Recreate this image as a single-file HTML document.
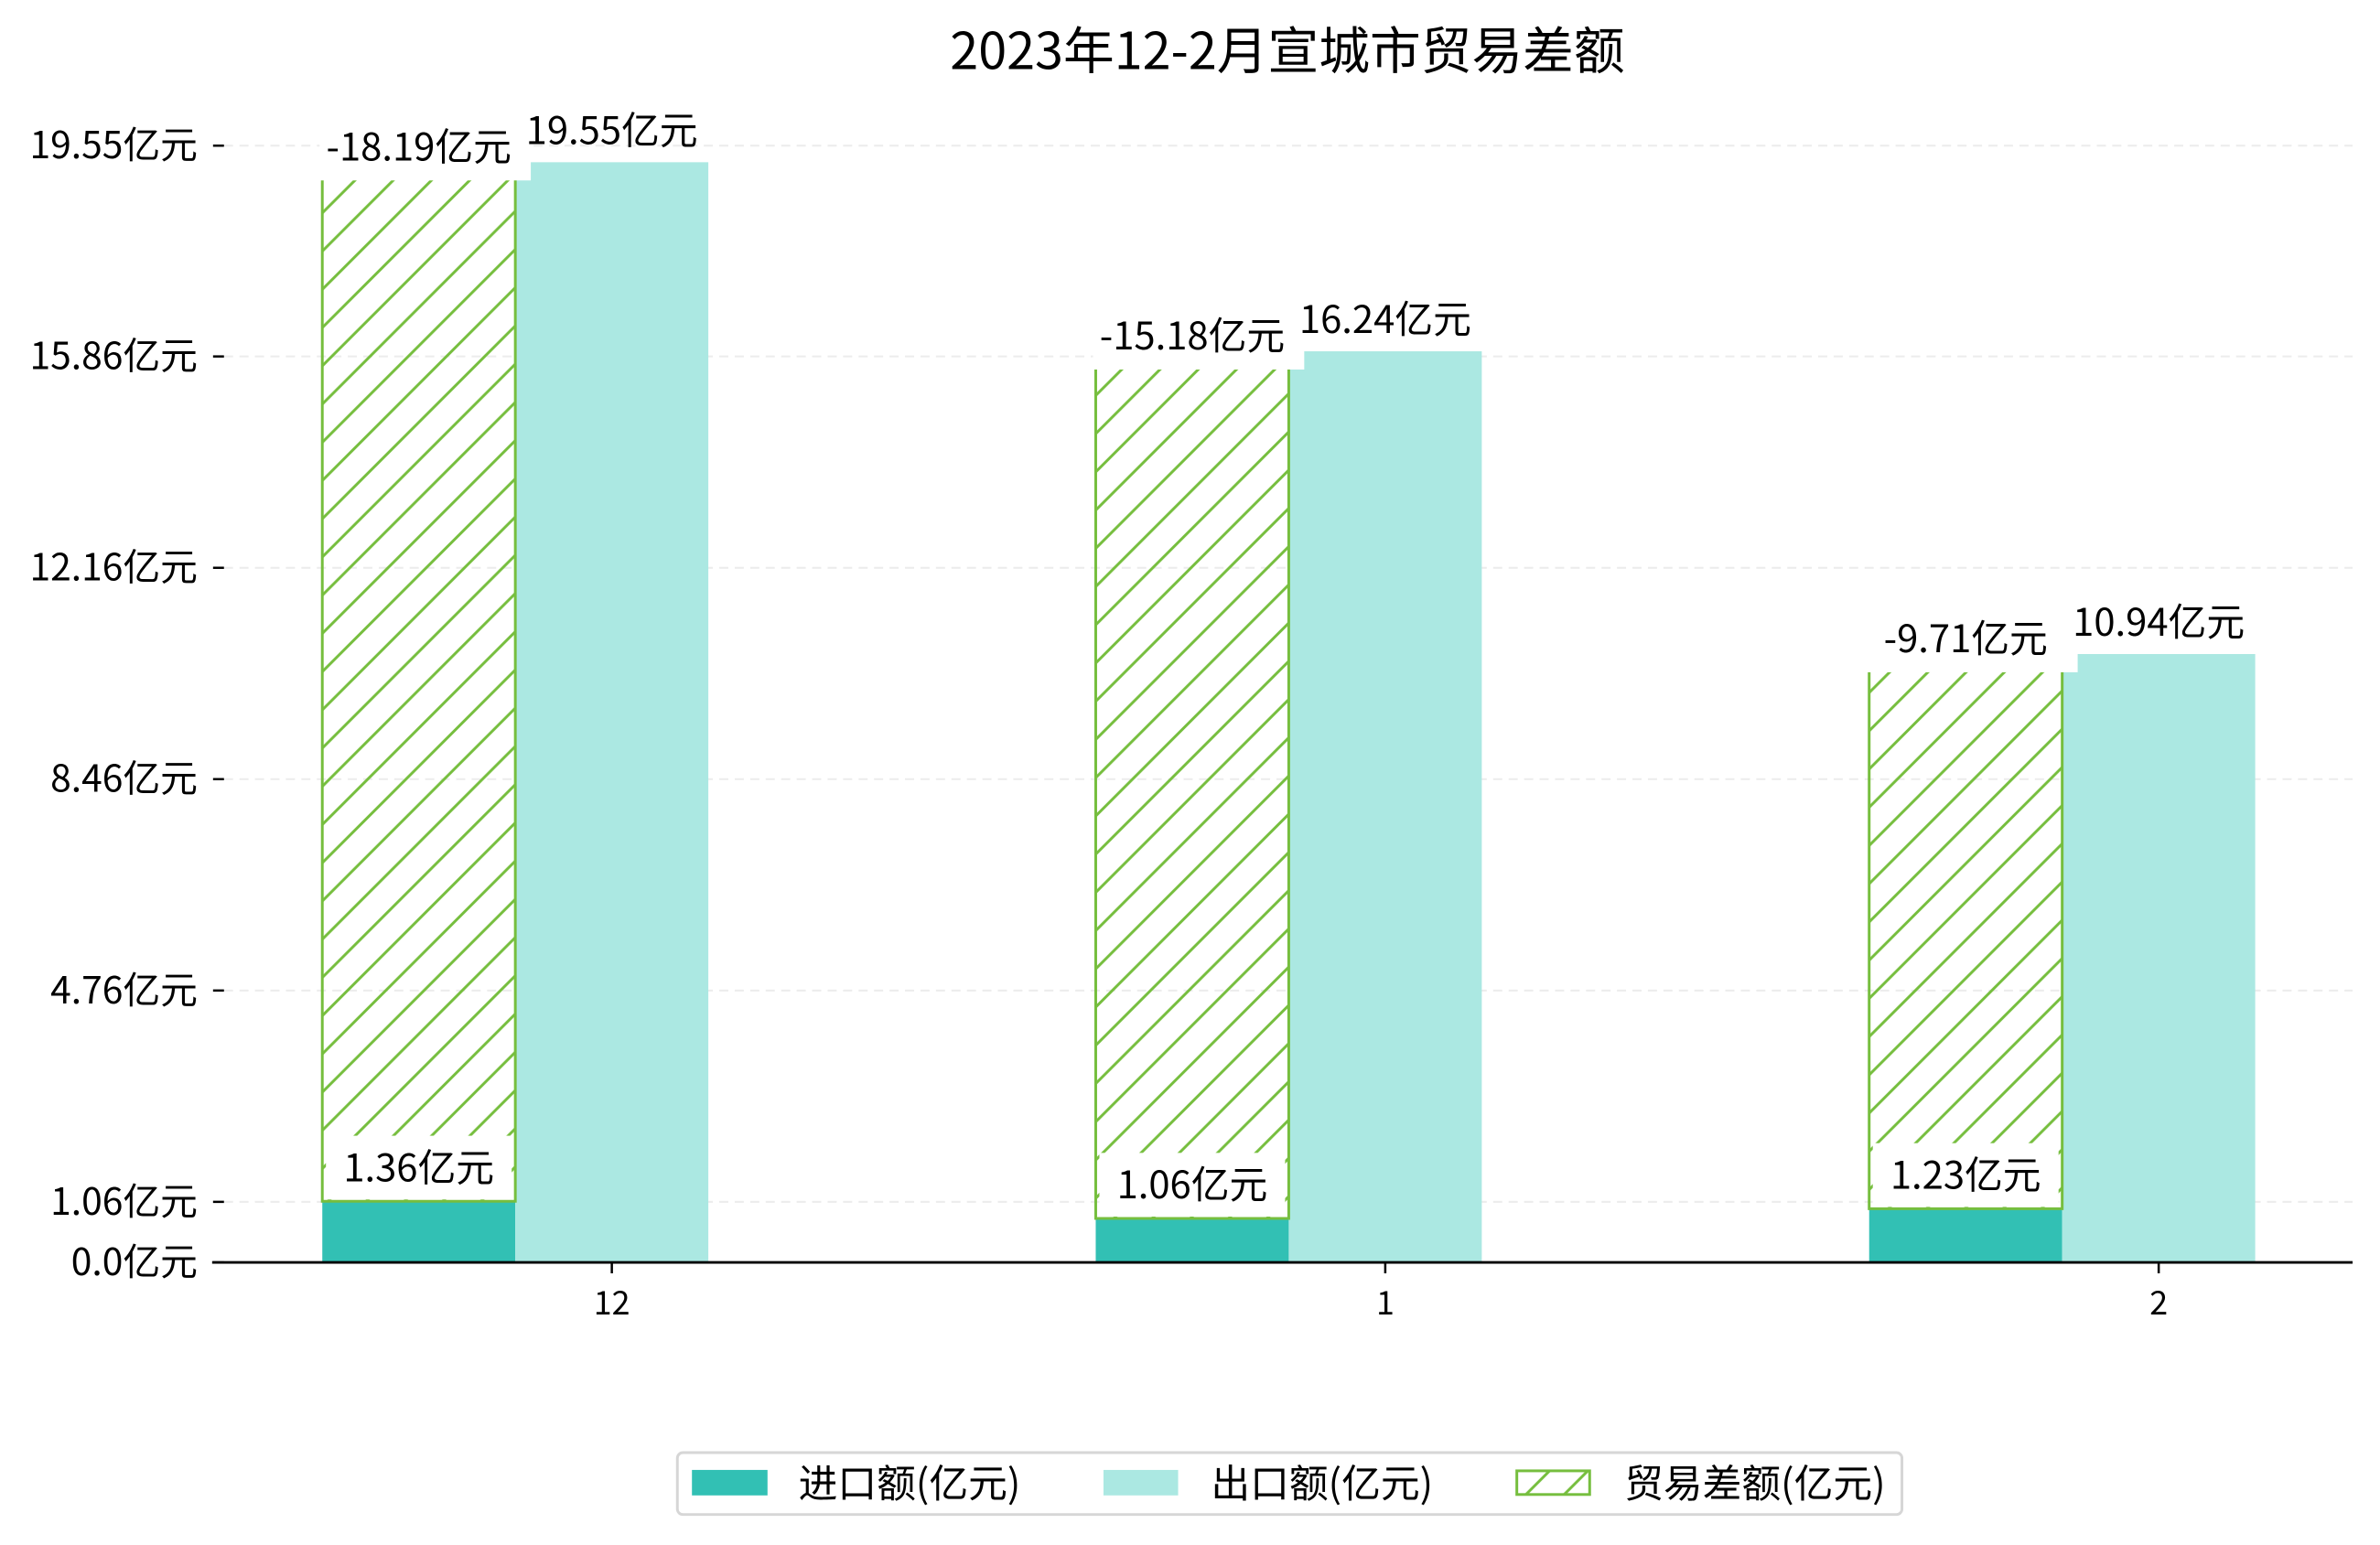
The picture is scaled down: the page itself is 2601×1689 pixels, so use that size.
<!DOCTYPE html>
<html><head><meta charset="utf-8">
<style>
html,body{margin:0;padding:0;background:#fff;}
svg{display:block;font-family:"Noto Sans CJK SC","Liberation Sans",sans-serif;}
</style></head>
<body>
<svg id="chart" width="2601" height="1689" viewBox="0 0 2601 1689" xmlns="http://www.w3.org/2000/svg">
<defs>
<pattern id="hatch" patternUnits="userSpaceOnUse" width="42" height="42">
<path d="M-10,10 L10,-10 M0,42 L42,0 M32,52 L52,32" stroke="#76BE3E" stroke-width="3"/>
</pattern>
<clipPath id="plotclip"><rect x="233" y="0" width="2360" height="1387"/></clipPath>
</defs>
<g transform="scale(0.995)">
<text x="1414" y="76" text-anchor="middle" font-size="56" fill="#000">2023年12-2月宣城市贸易差额</text>
<g id="grid"></g>
<g id="bars" clip-path="url(#plotclip)"></g>
<g id="labels"></g>
<g id="axes"></g>
<g>
<rect x="744" y="1596" width="1345" height="68" rx="6" fill="#fff" stroke="#d6d6d6" stroke-width="3"/>
<rect x="760" y="1615" width="83" height="28" fill="#32C0B4"/>
<text x="877" y="1645" font-size="43">进口额(亿元)</text>
<rect x="1212" y="1615" width="82" height="28" fill="#ABE8E2"/>
<text x="1330" y="1645" font-size="43">出口额(亿元)</text>
<rect x="1666" y="1616" width="80" height="26" fill="url(#hatch)" stroke="#76BE3E" stroke-width="3"/>
<text x="1784" y="1645" font-size="43">贸易差额(亿元)</text>
</g>
</g>
</svg>
<script>
const categories = ["12", "1", "2"];
const importValues = [1.36, 1.06, 1.23];
const exportValues = [19.55, 16.24, 10.94];
const balanceValues = [-18.19, -15.18, -9.71];
const tickValues = [0.0, 1.06, 4.76, 8.46, 12.16, 15.86, 19.55];
const tickLabels = ["0.0亿元", "1.06亿元", "4.76亿元", "8.46亿元", "12.16亿元", "15.86亿元", "19.55亿元"];

const NS = "http://www.w3.org/2000/svg";
const base = 1387, k = 62.76, barShift = 0.29;
const left = 233, right = 2584;
function yT(v){ return base - v * k; }
function yB(v){ return base - (v - barShift) * k; }
function xC(i){ return 672 + i * 849.5; }
const bw = 212;
function mk(tag, attrs, parent){
  const e = document.createElementNS(NS, tag);
  for (const a in attrs) e.setAttribute(a, attrs[a]);
  parent.appendChild(e);
  return e;
}
const grid = document.getElementById('grid');
const bars = document.getElementById('bars');
const labels = document.getElementById('labels');
const axes = document.getElementById('axes');

tickValues.forEach((v, i) => {
  const y = yT(v);
  if (i > 0) {
    const g = mk('line', {x1: 246, x2: right, y1: y, y2: y, stroke: '#ececec', 'stroke-width': 2, 'stroke-dasharray': '10,7'}, grid);
    
    
  }
  const t = mk('line', {x1: 234, x2: 246, y1: y, y2: y, stroke: '#000', 'stroke-width': 2.5}, axes);
  
  
  const l = mk('text', {x: 217, y: y + 14, 'text-anchor': 'end', 'font-size': 41}, axes);
  l.textContent = tickLabels[i];
  
  
});

function label(txt, cx, cy, name){
  const t = mk('text', {x: cx, y: cy + 15, 'text-anchor': 'middle', 'font-size': 42}, labels);
  t.textContent = txt;
  
  
}
function box(x, y, w, h, name){
  const r = mk('rect', {x: x, y: y, width: w, height: h, fill: '#fff'}, labels);
  
  
}

categories.forEach((c, i) => {
  const cx = xC(i);
  const ix = cx - bw * 1.5, ex = cx - bw / 2;
  const iTop = yB(importValues[i]);
  const eTop = yB(exportValues[i]);
  const bTop = yB(importValues[i] + Math.abs(balanceValues[i]));
  const ib = mk('rect', {x: ix, y: iTop, width: bw, height: yB(0) + 40 - iTop, fill: '#32C0B4'}, bars);
  
  
  const eb = mk('rect', {x: ex, y: eTop, width: bw, height: yB(0) + 40 - eTop, fill: '#ABE8E2'}, bars);
  
  
  const hb = mk('rect', {x: ix, y: bTop, width: bw, height: iTop - bTop, fill: 'url(#hatch)', stroke: '#76BE3E', 'stroke-width': 3}, bars);
  
  

  box(ix - 3, bTop - 36, bw + 20, 56, 'balance-label-box-' + c);
  label(balanceValues[i].toFixed(2) + '亿元', ix + bw / 2, bTop - 17, 'balance-label-' + c);
  label(exportValues[i].toFixed(2) + '亿元', ex + bw / 2, eTop - 35, 'export-label-' + c);
  box(ix + 4, iTop - 72, bw - 8, 70, 'import-label-box-' + c);
  label(importValues[i].toFixed(2) + '亿元', ix + bw / 2, iTop - 37, 'import-label-' + c);

  const xt = mk('line', {x1: cx, x2: cx, y1: base, y2: base + 12, stroke: '#000', 'stroke-width': 2.5}, axes);
  
  
  const xl = mk('text', {x: cx, y: base + 57, 'text-anchor': 'middle', 'font-size': 36}, axes);
  xl.textContent = c;
  
  
});

const ax = mk('line', {x1: left, x2: right, y1: base, y2: base, stroke: '#000', 'stroke-width': 3}, axes);


</script>
</body></html>
